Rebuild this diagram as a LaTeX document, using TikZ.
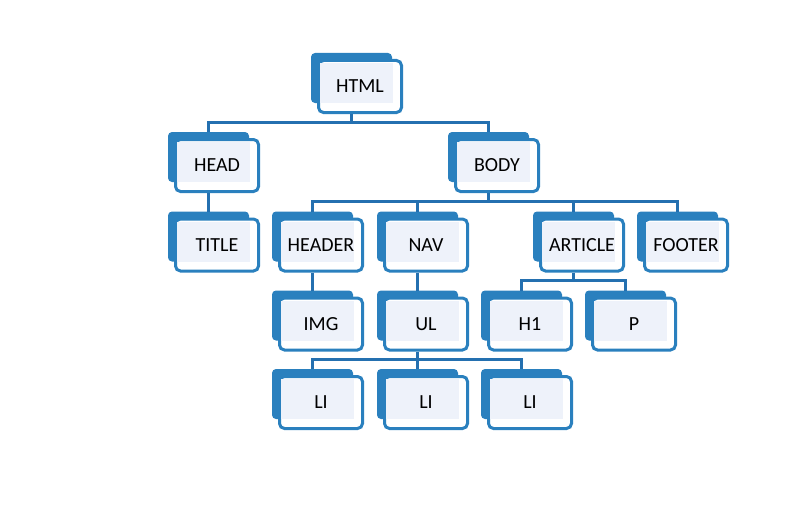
\documentclass[tikz,border=0pt]{standalone}
\usepackage{fontspec}
\setmainfont{Carlito}
\usepackage{tikz}
\usetikzlibrary{calc}
\definecolor{tagblue}{RGB}{42,128,190}
\definecolor{tagdark}{RGB}{36,112,176}
\definecolor{tagpale}{RGB}{238,242,250}
\tikzstyle{tagback} = [fill=tagblue,rounded corners=4pt,inner sep=0pt,outer sep=0pt,
    minimum width=81pt,minimum height=50pt]
\tikzstyle{tagfront} = [draw=tagblue,fill=white,line width=3pt,rounded corners=5pt,inner sep=0pt,
    minimum width=83pt,minimum height=52pt]
\tikzstyle{tagtext} = [inner sep=0pt,font=\fontsize{20}{24}\selectfont]
\tikzstyle{tagline} = [draw=tagdark,line width=3pt]
\newcommand{\tagbox}[4]{
    \node(#1-back) at (#2-8.5,#3-8.5) [tagback] {};
    \node(#1) at (#2,#3) [tagfront] {};
    \fill[tagpale] ($(#1.north west)+(3,4)$) rectangle ($(#1.south east)+(-10,-11)$);
    \node(#1-text) at (#1) [tagtext] {#4};
}

\begin{document}
\begin{tikzpicture}[x=1pt,y=-1pt]
	\useasboundingbox (0,0) rectangle (798,527);
	
	\tagbox{html}{360}{86.5}{HTML}
	
	\tagbox{head}{217}{165.5}{HEAD}
	\tagbox{body}{497}{165.5}{BODY}
	
	\tagbox{title}{217}{245}{TITLE}
	\tagbox{header}{321}{245}{HEADER}
	\tagbox{nav}{426}{245}{NAV}
	\tagbox{article}{582}{245}{ARTICLE}
	\tagbox{footer}{686}{245}{FOOTER}
	
	\tagbox{img}{321}{324}{IMG}
	\tagbox{ul}{426}{324}{UL}
	\tagbox{h1}{530}{324}{H1}
	\tagbox{p}{634}{324}{P}
	
	\tagbox{li1}{321}{402.5}{LI}
	\tagbox{li2}{426}{402.5}{LI}
	\tagbox{li3}{530}{402.5}{LI}
	
	% html
	\draw[tagline] (html-back.south |- html.south) -- ++(0,8) coordinate(bar1);
	\draw[tagline] (head-back.north) |- (bar1) -| (body-back.north);
	
	% head, body
	\draw[tagline] (head-back.south |- head.south) -- (title-back.north);
	\draw[tagline] (body-back.south |- body.south) -- ++(0,8) coordinate(bar2);
	\draw[tagline] (header-back.north) |- (bar2) -| (footer-back.north);
	\draw[tagline] (nav-back.north) -- (nav-back.north |- bar2);
	\draw[tagline] (article-back.north) -- (article-back.north |- bar2);
	
	% header, nav, article
	\draw[tagline] (header-back.south |- header.south) -- (img-back.north);
	\draw[tagline] (nav-back.south |- nav.south) -- (ul-back.north);
	\draw[tagline] (article-back.south |- article.south) -- ++(0,8) coordinate(bar3);
	\draw[tagline] (h1-back.north) |- (bar3) -| (p-back.north);
	
	% ul
	\draw[tagline] (ul-back.south |- ul.south) -- ++(0,8) coordinate(bar4);
	\draw[tagline] (li1-back.north) |- (bar4) -| (li3-back.north);
	\draw[tagline] (li2-back.north) -- (li2-back.north |- bar4);
\end{tikzpicture}
\end{document}
